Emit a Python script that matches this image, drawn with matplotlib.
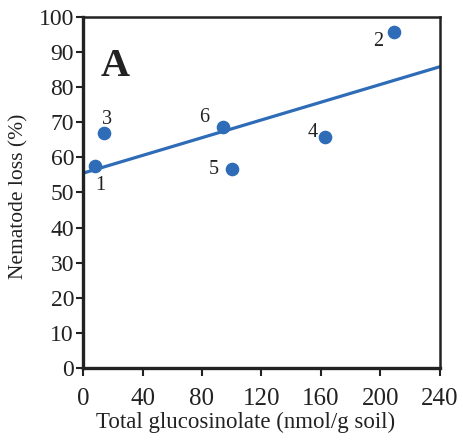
import matplotlib.pyplot as plt

# data
glucosinolate = [8, 209, 14, 163, 100, 94]
nematode_loss = [57.5, 95.7, 67.0, 65.8, 56.7, 68.7]
point_labels = ["1", "2", "3", "4", "5", "6"]
fit_x = [0, 240]
fit_y = [55.5, 85.8]

x_ticks = [0, 40, 80, 120, 160, 200, 240]
y_ticks = [0, 10, 20, 30, 40, 50, 60, 70, 80, 90, 100]

# label offsets in pixels (dx, dy)
offsets = {
  "1": (5, -19),
  "2": (-16, -10),
  "3": (3, 13),
  "4": (-13, 4),
  "5": (-18, -1),
  "6": (-19, 9),
}

plt.rcParams["font.family"] = ["Liberation Serif", "DejaVu Serif"]

blue = "#2f6cb8"
ink = "#222222"

fig = plt.figure(figsize=(4.64, 4.43), dpi=100)
ax = fig.add_axes([0.179, 0.169, 0.769, 0.793])

ax.plot(fit_x, fit_y, color=blue, lw=2.3, zorder=2)
ax.plot(glucosinolate, nematode_loss, "o", color=blue, ms=8.8, zorder=3, clip_on=False)

for x, y, lab in zip(glucosinolate, nematode_loss, point_labels):
  ax.annotate(lab, (x, y), xytext=offsets[lab], textcoords="offset pixels",
              ha="center", va="center", fontsize=14.5, color=ink)

ax.text(0.048, 0.86, "A", transform=ax.transAxes, fontsize=29, fontweight="bold",
        ha="left", va="center", color=ink)

ax.set_xlim(0, 240)
ax.set_ylim(0, 100)
ax.set_xticks(x_ticks)
ax.set_yticks(y_ticks)
ax.tick_params(axis="both", direction="out", colors=ink, width=1.5)
ax.tick_params(axis="x", length=6, pad=8, labelsize=18)
ax.tick_params(axis="y", length=5, pad=1.5, labelsize=17)

for side in ["left", "bottom"]:
  ax.spines[side].set_linewidth(2.4)
for side in ["top", "right"]:
  ax.spines[side].set_linewidth(1.8)
for sp in ax.spines.values():
  sp.set_color(ink)

ax.set_xlabel("Total glucosinolate (nmol/g soil)", fontsize=16.5, color=ink)
ax.set_ylabel("Nematode loss (%)", fontsize=15.5, color=ink)
ax.xaxis.set_label_coords(0.455, -0.125)
ax.yaxis.set_label_coords(-0.152, 0.49)

fig.savefig("out.png", dpi=100)
